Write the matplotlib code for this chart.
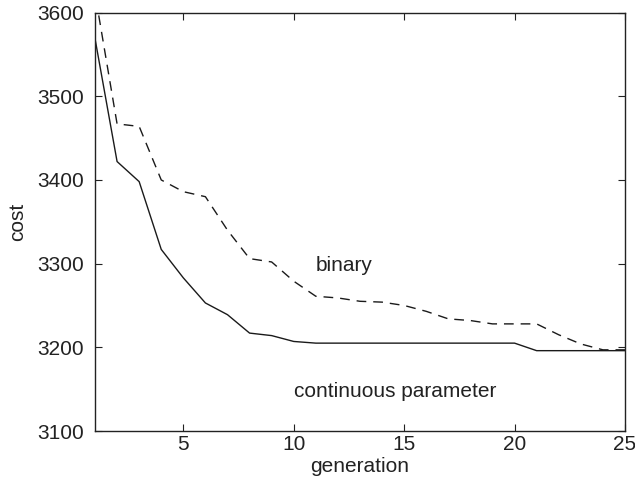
import numpy as np
import matplotlib
matplotlib.use('Agg')
import matplotlib.pyplot as plt

plt.rcParams['font.family'] = ['Liberation Sans', 'DejaVu Sans']
plt.rcParams['lines.scale_dashes'] = False

# values
generation = list(range(1, 26))
continuous = [3569, 3422, 3398, 3317, 3283, 3253, 3239, 3217, 3214, 3207,
              3205, 3205, 3205, 3205, 3205, 3205, 3205, 3205, 3205, 3205,
              3196, 3196, 3196, 3196, 3196]
binary = [3623, 3467, 3464, 3400, 3386, 3380, 3340, 3306, 3302, 3279,
          3261, 3259, 3255, 3254, 3250, 3243, 3234, 3232, 3228, 3228,
          3228, 3215, 3204, 3197, 3197]

fig = plt.figure(figsize=(6.35, 4.84), dpi=100)
ax = fig.add_axes([0.1496, 0.1095, 0.8346, 0.8645])

line_color = '#1a1a1a'
txt_color = '#222222'
ax.plot(generation, continuous, color=line_color, lw=1.0)
ax.plot(generation, binary, color=line_color, lw=1.0, dashes=(7, 5))

ax.text(11.0, 3298, 'binary', fontsize=15, color=txt_color, va='center', ha='left')
ax.text(14.6, 3147, 'continuous parameter', fontsize=15, color=txt_color,
        va='center', ha='center')

ax.set_xlim(1, 25)
ax.set_ylim(3100, 3600)
ax.set_xticks([5, 10, 15, 20, 25])
ax.set_yticks(np.arange(3100, 3601, 100))
ax.tick_params(direction='in', length=5, width=0.8, top=True, right=True,
               labelsize=15, colors=txt_color)
ax.tick_params(axis='x', pad=3)
ax.tick_params(axis='y', pad=8)
for side in ax.spines.values():
    side.set_color(txt_color)
    side.set_linewidth(1.0)

ax.set_xlabel('generation', fontsize=15, color=txt_color, labelpad=2)
ax.set_ylabel('cost', fontsize=15, color=txt_color, labelpad=7)

fig.savefig('out.png', dpi=100)
